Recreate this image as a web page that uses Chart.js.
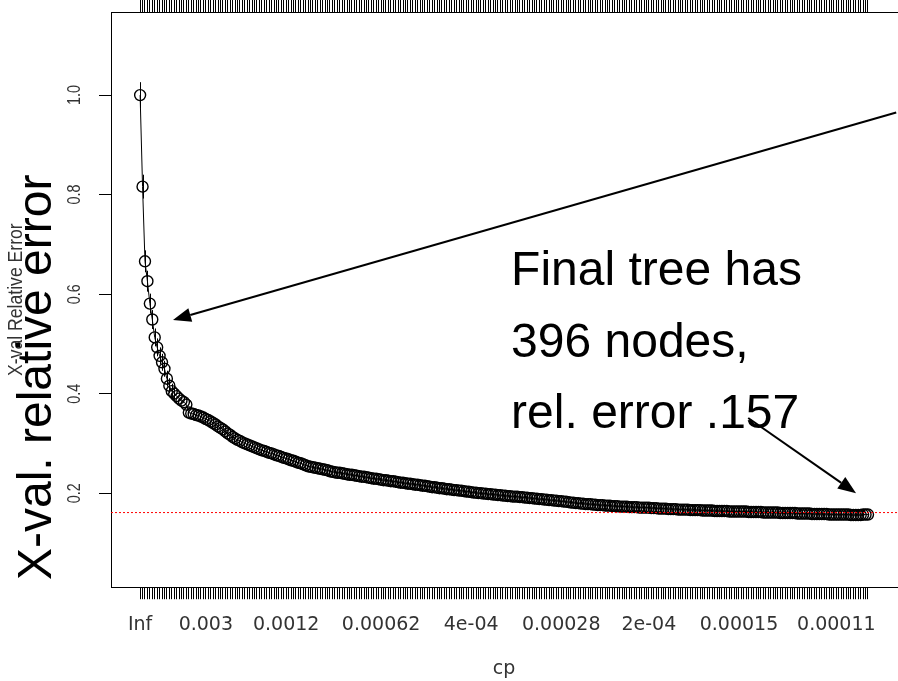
<!DOCTYPE html>
<html>
<head>
<meta charset="utf-8">
<script src="https://cdn.jsdelivr.net/npm/chart.js@4/dist/chart.umd.min.js"></script>
<style>
  html, body { margin: 0; padding: 0; background: #fff; overflow: hidden; }
  #wrap { width: 904px; height: 681px; }
</style>
</head>
<body>
<div id="wrap"><canvas id="cpChart" width="904" height="681"></canvas></div>
<script>
// cross-validated relative error, one value per row of the cp table
const xerror = [
  1.000, 0.816, 0.666, 0.626, 0.581, 0.549, 0.513, 0.493, 0.476, 0.463,
  0.450, 0.430, 0.416, 0.405, 0.400, 0.395, 0.390, 0.386, 0.383, 0.378,
  0.362, 0.360, 0.359, 0.357, 0.356, 0.354, 0.352, 0.349, 0.347, 0.344,
  0.341, 0.338, 0.334, 0.331, 0.328, 0.324, 0.320, 0.317, 0.313, 0.310,
  0.307, 0.305, 0.302, 0.300, 0.298, 0.296, 0.294, 0.292, 0.290, 0.288,
  0.286, 0.285, 0.283, 0.281, 0.280, 0.278, 0.276, 0.275, 0.273, 0.271,
  0.270, 0.268, 0.266, 0.265, 0.263, 0.261, 0.260, 0.258, 0.256, 0.254,
  0.253, 0.252, 0.251, 0.250, 0.249, 0.248, 0.247, 0.246, 0.244, 0.243,
  0.242, 0.241, 0.241, 0.240, 0.239, 0.238, 0.237, 0.237, 0.236, 0.235,
  0.234, 0.233, 0.233, 0.232, 0.231, 0.230, 0.229, 0.229, 0.228, 0.227,
  0.226, 0.226, 0.225, 0.224, 0.224, 0.223, 0.222, 0.221, 0.221, 0.220,
  0.219, 0.219, 0.218, 0.217, 0.217, 0.216, 0.215, 0.215, 0.214, 0.213,
  0.212, 0.212, 0.211, 0.210, 0.210, 0.209, 0.208, 0.208, 0.207, 0.206,
  0.206, 0.205, 0.205, 0.204, 0.203, 0.203, 0.202, 0.201, 0.201, 0.200,
  0.200, 0.199, 0.199, 0.198, 0.198, 0.197, 0.197, 0.196, 0.196, 0.195,
  0.195, 0.194, 0.194, 0.193, 0.193, 0.193, 0.192, 0.192, 0.191, 0.191,
  0.190, 0.190, 0.189, 0.189, 0.188, 0.188, 0.187, 0.187, 0.186, 0.186,
  0.185, 0.185, 0.184, 0.184, 0.183, 0.183, 0.182, 0.181, 0.181, 0.180,
  0.180, 0.179, 0.179, 0.178, 0.178, 0.178, 0.177, 0.177, 0.176, 0.176,
  0.176, 0.175, 0.175, 0.175, 0.174, 0.174, 0.174, 0.173, 0.173, 0.173,
  0.173, 0.172, 0.172, 0.172, 0.172, 0.171, 0.171, 0.171, 0.171, 0.171,
  0.170, 0.170, 0.170, 0.169, 0.169, 0.169, 0.169, 0.168, 0.168, 0.168,
  0.168, 0.167, 0.167, 0.167, 0.167, 0.167, 0.166, 0.166, 0.166, 0.166,
  0.166, 0.165, 0.165, 0.165, 0.165, 0.165, 0.164, 0.164, 0.164, 0.164,
  0.164, 0.164, 0.163, 0.163, 0.163, 0.163, 0.163, 0.163, 0.163, 0.163,
  0.162, 0.162, 0.162, 0.162, 0.162, 0.162, 0.161, 0.161, 0.161, 0.161,
  0.161, 0.161, 0.161, 0.160, 0.160, 0.160, 0.160, 0.160, 0.160, 0.160,
  0.159, 0.159, 0.159, 0.159, 0.159, 0.159, 0.158, 0.158, 0.158, 0.158,
  0.158, 0.158, 0.158, 0.157, 0.157, 0.157, 0.157, 0.157, 0.157, 0.157,
  0.157, 0.157, 0.156, 0.156, 0.156, 0.156, 0.156, 0.157, 0.157, 0.157
];

// standard errors (only the first rows show outside the circles)
const xstd = [0.026, 0.024, 0.022, 0.021, 0.020, 0.019, 0.018, 0.018, 0.017, 0.017,
  0.016, 0.016, 0.015, 0.015, 0.015];

// bottom axis labels (cp values) and the row they sit under
const cpLabels = ["Inf", "0.003", "0.0012", "0.00062", "4e-04", "0.00028", "2e-04", "0.00015", "0.00011"];
const cpLabelAt = [1, 28, 61, 100, 137, 174, 210, 247, 287];

const yTicks = [0.2, 0.4, 0.6, 0.8, 1.0];
const yTickText = ["0.2", "0.4", "0.6", "0.8", "1.0"];

const minLine = 0.161;   // min + 1 SE
const noteLines = ["Final tree has", "396 nodes,", "rel. error .157"];

const n = xerror.length;
const pad = 0.04 * (n - 1);
const rowTicks = xerror.map((v, i) => i + 1);

const extras = {
  id: "extras",
  beforeDatasetsDraw(chart) {
    const { ctx, scales: { x, y } } = chart;
    ctx.save();
    ctx.strokeStyle = "#000";
    ctx.lineWidth = 1;
    xstd.forEach((s, i) => {
      const px = Math.round(x.getPixelForValue(i + 1)) + 0.5;
      ctx.beginPath();
      ctx.moveTo(px, y.getPixelForValue(xerror[i] + s));
      ctx.lineTo(px, y.getPixelForValue(xerror[i] - s));
      ctx.stroke();
    });
    ctx.restore();
  },
  afterDraw(chart) {
    const { ctx, chartArea: area, scales: { x, y } } = chart;
    ctx.save();

    // y tick labels, rotated and narrow like R's
    ctx.fillStyle = "#333";
    ctx.font = '18px "Liberation Sans", Arial, sans-serif';
    ctx.textAlign = "center";
    ctx.textBaseline = "alphabetic";
    yTicks.forEach((v, i) => {
      ctx.save();
      ctx.translate(80, y.getPixelForValue(v));
      ctx.rotate(-Math.PI / 2);
      ctx.scale(0.8, 1);
      ctx.fillText(yTickText[i], 0, 0);
      ctx.restore();
    });

    // small R axis title
    ctx.save();
    ctx.translate(22, (area.top + area.bottom) / 2);
    ctx.rotate(-Math.PI / 2);
    ctx.scale(0.88, 1);
    ctx.font = '20px "Liberation Sans", Arial, sans-serif';
    ctx.fillStyle = "#333";
    ctx.fillText("X-val Relative Error", 0, 0);
    ctx.restore();

    // big overlaid title
    ctx.save();
    ctx.translate(51, 580);
    ctx.rotate(-Math.PI / 2);
    ctx.font = '48px "Liberation Sans", Arial, sans-serif';
    ctx.fillStyle = "#000";
    ctx.textAlign = "left";
    ctx.fillText("X-val. relative error", 0, 0);
    ctx.restore();

    // x title
    ctx.font = '19px "DejaVu Sans", sans-serif';
    ctx.fillStyle = "#333";
    ctx.textAlign = "center";
    ctx.fillText("cp", (area.left + area.right) / 2, 674);

    // note text
    ctx.font = '48px "Liberation Sans", Arial, sans-serif';
    ctx.fillStyle = "#000";
    ctx.textAlign = "left";
    const tx = x.getPixelForValue(153.4);
    [0.618, 0.473, 0.331].forEach((v, i) => {
      ctx.fillText(noteLines[i], tx, y.getPixelForValue(v));
    });

    // arrows
    const arrow = (x0, y0, x1, y1) => {
      const ax = x.getPixelForValue(x0), ay = y.getPixelForValue(y0);
      const bx = x.getPixelForValue(x1), by = y.getPixelForValue(y1);
      const ang = Math.atan2(by - ay, bx - ax);
      const len = 18, half = 7;
      const hx = bx - len * Math.cos(ang), hy = by - len * Math.sin(ang);
      ctx.strokeStyle = "#000";
      ctx.lineWidth = 2;
      ctx.beginPath();
      ctx.moveTo(ax, ay);
      ctx.lineTo(hx, hy);
      ctx.stroke();
      ctx.beginPath();
      ctx.moveTo(bx, by);
      ctx.lineTo(hx + half * Math.sin(ang), hy - half * Math.cos(ang));
      ctx.lineTo(hx - half * Math.sin(ang), hy + half * Math.cos(ang));
      ctx.closePath();
      ctx.fill();
    };
    arrow(311.6, 0.965, 14.5, 0.548);
    arrow(250.8, 0.351, 295.1, 0.200);

    ctx.restore();
  }
};

new Chart(document.getElementById("cpChart"), {
  type: "line",
  data: {
    datasets: [
      {
        // dotted red 1-SE line, drawn above the points
        data: [{ x: 1 - pad, y: minLine }, { x: n + pad, y: minLine }],
        borderColor: "#ff0000",
        borderWidth: 1,
        borderDash: [2, 2],
        pointRadius: 0,
        order: -1
      },
      {
        data: xerror.map((v, i) => ({ x: i + 1, y: v })),
        borderColor: "#000",
        borderWidth: 1,
        pointRadius: 5.5,
        pointBorderWidth: 1.4,
        pointBorderColor: "#000",
        pointBackgroundColor: "rgba(0,0,0,0)",
        tension: 0,
        order: 1
      }
    ]
  },
  options: {
    responsive: false,
    animation: false,
    layout: { padding: { left: 99, top: 0, right: 1, bottom: 31 } },
    plugins: { legend: { display: false }, tooltip: { enabled: false } },
    scales: {
      x: {
        type: "linear",
        position: "bottom",
        min: 1 - pad,
        max: n + pad,
        afterBuildTicks: axis => { axis.ticks = rowTicks.map(v => ({ value: v })); },
        grid: { drawOnChartArea: false, tickLength: 12, tickColor: "#000" },
        border: { color: "#000" },
        ticks: {
          autoSkip: false,
          maxRotation: 0,
          padding: 14,
          color: "#333",
          font: { family: "DejaVu Sans", size: 19 },
          callback: v => {
            const k = cpLabelAt.indexOf(v);
            return k < 0 ? "" : cpLabels[k];
          }
        }
      },
      xTop: {
        type: "linear",
        position: "top",
        min: 1 - pad,
        max: n + pad,
        afterBuildTicks: axis => { axis.ticks = rowTicks.map(v => ({ value: v })); },
        grid: { drawOnChartArea: false, tickLength: 12, tickColor: "#000" },
        border: { color: "#000" },
        ticks: { display: false }
      },
      y: {
        type: "linear",
        min: 0.011,
        max: 1.167,
        afterBuildTicks: axis => { axis.ticks = yTicks.map(v => ({ value: v })); },
        grid: { drawOnChartArea: false, tickLength: 12, tickColor: "#000" },
        border: { color: "#000" },
        ticks: { display: false }
      }
    }
  },
  plugins: [extras]
});
</script>
</body>
</html>
